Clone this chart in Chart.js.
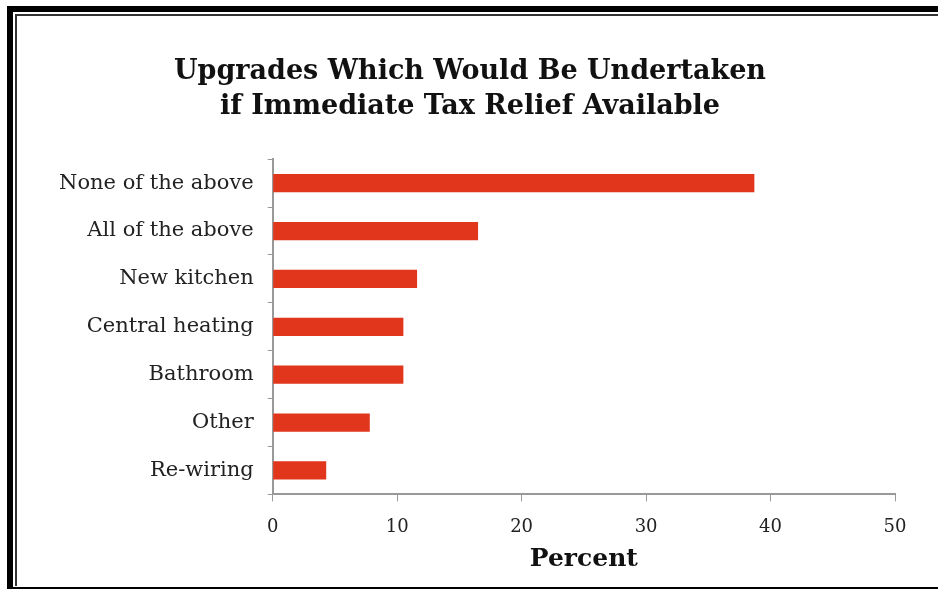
<!DOCTYPE html>
<html>
<head>
<meta charset="utf-8">
<script src="https://cdn.jsdelivr.net/npm/chart.js@4.4.1/dist/chart.umd.min.js"></script>
<style>
  body { margin: 0; background: #fff; width: 938px; height: 590px; overflow: hidden; position: relative; }
  #frame { position: absolute; left: 7px; top: 6px; width: 960px; height: 583px;
           border-left: 6px solid #000; border-top: 6px solid #000; border-bottom: 2px solid #000; box-sizing: border-box; }
  #inner { position: absolute; left: 2px; top: 2px; right: 0; bottom: 1px;
           border-left: 2px solid #333; border-top: 2px solid #333; }
  #grafico { position: absolute; left: 0; top: 0; }
</style>
</head>
<body>
<div id="frame"><div id="inner"></div></div>
<canvas id="grafico" width="938" height="590"></canvas>
<script>
// Dados do gráfico
const categorias = ['None of the above', 'All of the above', 'New kitchen', 'Central heating', 'Bathroom', 'Other', 'Re-wiring'];
const percentuais = [38.7, 16.5, 11.6, 10.5, 10.5, 7.8, 4.3];
const ticksX = [0, 10, 20, 30, 40, 50];

const fonteSerif = '"DejaVu Serif", "Liberation Serif", serif';

const ctx = document.getElementById('grafico').getContext('2d');
new Chart(ctx, {
    type: 'bar',
    data: {
        labels: categorias,
        datasets: [{
            label: 'Percent',
            data: percentuais,
            backgroundColor: '#e2361c',
            borderWidth: 0,
            barPercentage: 0.38,
            categoryPercentage: 1
        }]
    },
    options: {
        indexAxis: 'y',
        responsive: false,
        animation: false,
        layout: {
            padding: { left: 45, right: 43, top: 54, bottom: 14 }
        },
        plugins: {
            legend: { display: false },
            tooltip: { enabled: false },
            title: {
                display: true,
                text: ['Upgrades Which Would Be Undertaken', 'if Immediate Tax Relief Available'],
                color: '#111',
                font: { family: fonteSerif, size: 27, weight: 'bold', lineHeight: 1.3 },
                padding: { top: 0, bottom: 35 }
            }
        },
        scales: {
            x: {
                min: 0,
                max: 50,
                afterBuildTicks: function(axis) {
                    axis.ticks = ticksX.map(v => ({ value: v }));
                },
                grid: { display: true, drawOnChartArea: false, tickLength: 7, color: '#999' },
                border: { color: '#999', width: 2 },
                ticks: { color: '#222', font: { family: fonteSerif, size: 18 }, padding: 15 },
                title: {
                    display: true,
                    text: 'Percent',
                    color: '#111',
                    font: { family: fonteSerif, size: 25, weight: 'bold', lineHeight: 1 },
                    padding: { top: -6 }
                }
            },
            y: {
                grid: { display: true, drawOnChartArea: false, tickLength: 5, color: '#999' },
                border: { color: '#999', width: 2 },
                ticks: { color: '#222', font: { family: fonteSerif, size: 21 }, padding: 14 }
            }
        }
    }
});
</script>
</body>
</html>
